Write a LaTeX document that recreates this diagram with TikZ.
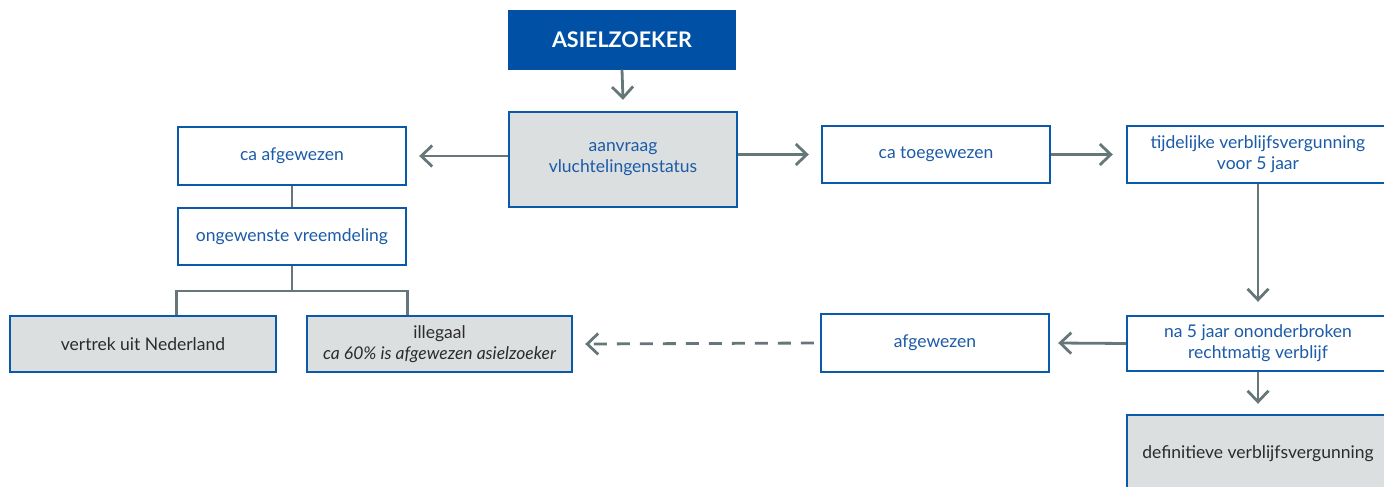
\documentclass[tikz,border=0pt]{standalone}
\usepackage{fontspec}
\setmainfont{Lato}
\usetikzlibrary{arrows.meta}
\definecolor{dblue}{HTML}{0051A5}
\definecolor{bblue}{HTML}{0B5AAA}
\definecolor{tblue}{HTML}{1B5BA8}
\definecolor{gfill}{HTML}{DCDFE0}
\definecolor{cgray}{HTML}{66777A}
\definecolor{dtext}{HTML}{2B2B2B}
\tikzset{
  box/.style={draw=bblue, line width=2.4pt, fill=white, text=tblue, align=center,
    font=\fontsize{17.5}{21}\selectfont, inner sep=0pt},
  gbox/.style={box, fill=gfill, text=dtext},
  conn/.style={draw=cgray, line width=2.8pt},
  arr/.style={conn, -{Straight Barb[length=11pt,width=21pt,line width=2.8pt]}},
}
\begin{document}
\begin{tikzpicture}[x=1pt,y=-1pt]
\useasboundingbox (0,0) rectangle (1384,487);
\begin{scope}
\clip (0,0) rectangle (1384,487);
\node[box, fill=dblue, draw=dblue, text=white, font=\fontsize{21.5}{24}\selectfont\bfseries,
  minimum width=226pt, minimum height=57pt] (asiel) at (622,40) {ASIELZOEKER};
\node[box, fill=gfill, minimum width=228pt, minimum height=95pt] (aanv) at (623,159.5) {aanvraag\\vluchtelingenstatus};
\node[box, minimum width=228pt, minimum height=58pt] (caaf) at (292,156) {ca afgewezen};
\node[box, minimum width=228pt, minimum height=57pt] (ongew) at (292,236.5) {ongewenste vreemdeling};
\node[gbox, minimum width=266pt, minimum height=56pt] (vertrek) at (143,344) {vertrek uit Nederland};
\node[gbox, minimum width=265pt, minimum height=56pt] (illeg) at (439.5,344) {illegaal\\\itshape ca 60\% is afgewezen asielzoeker};
\node[box, minimum width=228pt, minimum height=57pt] (catoe) at (936,154.5) {ca toegewezen};
\node[box, minimum width=262pt, minimum height=57pt] (tijd) at (1258,154.5) {tijdelijke verblijfsvergunning\\voor 5 jaar};
\node[box, minimum width=228pt, minimum height=58pt] (afgew) at (935,343) {afgewezen};
\node[box, minimum width=262pt, minimum height=55pt] (na5) at (1258,343.5) {na 5 jaar ononderbroken\\rechtmatig verblijf};
\node[gbox, minimum width=262pt, minimum height=78pt] (defin) at (1258,454) {definitieve verblijfsvergunning};
\coordinate (bj) at (292,291);

\draw[arr] (asiel.south) -- ([yshift=11pt]aanv.north);
\draw[arr] (aanv.west |- caaf.east) -- ([xshift=12pt]caaf.east);
\draw[arr] (aanv.east |- catoe.west) -- ([xshift=-12pt]catoe.west);
\draw[arr] (catoe.east) -- ([xshift=-13pt]tijd.west);
\draw[arr] (tijd.south) -- ([yshift=13pt]na5.north);
\draw[arr] (na5.south) -- ([yshift=10pt]defin.north);
\draw[arr] (na5.west) -- ([xshift=8pt]afgew.east);
\draw[arr, dash pattern=on 13pt off 10pt] ([xshift=-6pt]afgew.west) -- ([xshift=12pt]illeg.east);
\draw[conn] (caaf.south) -- (ongew.north);
\draw[conn] (ongew.south) -- (bj);
\draw[conn] (vertrek.north -| ongew.west) -- (bj -| ongew.west) -- (bj -| ongew.east) -- (illeg.north -| ongew.east);
\end{scope}
\end{tikzpicture}
\end{document}
